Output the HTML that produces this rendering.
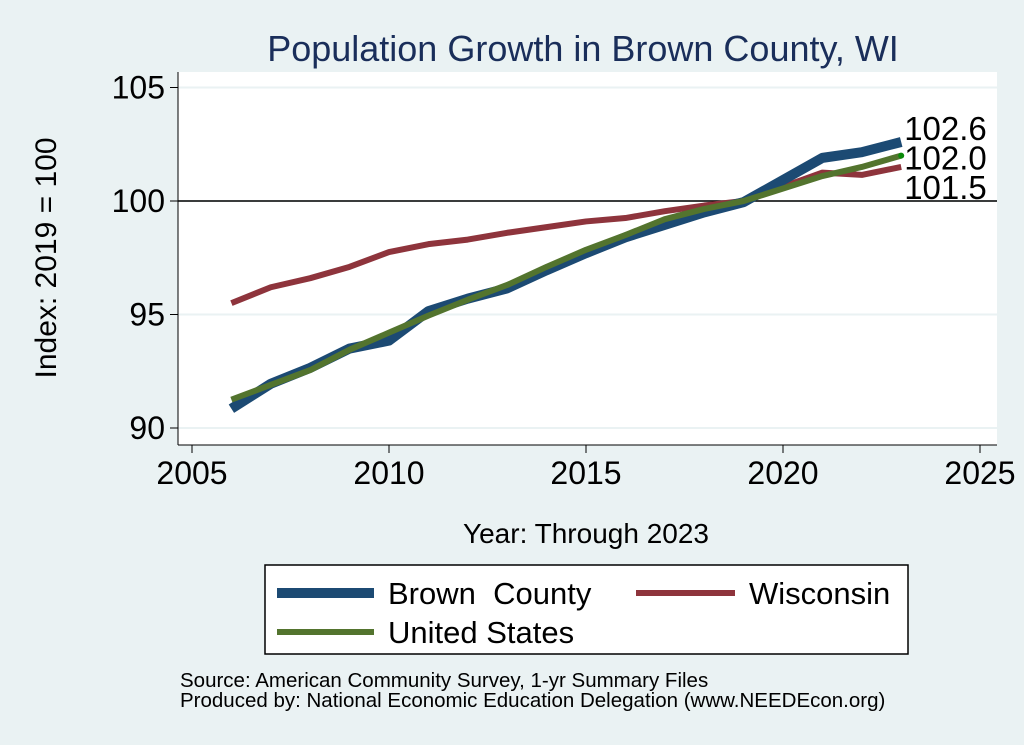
<!DOCTYPE html>
<html><head><meta charset="utf-8"><style>
body{margin:0;background:#eaf2f3;}
svg{display:block;font-family:"Liberation Sans",Arial,sans-serif;}
</style></head><body>
<svg width="1024" height="745" viewBox="0 0 1024 745">
<rect x="0" y="0" width="1024" height="745" fill="#eaf2f3"/>
<text x="583" y="61" font-size="36" fill="#1a2e5a" text-anchor="middle">Population Growth in Brown County, WI</text>
<rect x="178" y="72" width="819" height="373" fill="#fff"/>
<g id="grid"></g>
<g id="axes"></g>
<g id="series"></g>
<g id="labels"></g>
<text x="56" y="258" font-size="30" fill="#000" text-anchor="middle" transform="rotate(-90 56 258)">Index: 2019 = 100</text>
<text x="586" y="543" font-size="28" fill="#000" text-anchor="middle">Year: Through 2023</text>
<g>
<rect x="265" y="565" width="643" height="89" fill="#fff" stroke="#000" stroke-width="1.5"/>
<line x1="277" y1="593" x2="374" y2="593" stroke="#1c4a73" stroke-width="10"/>
<text x="388" y="604" font-size="31" style="white-space:pre" xml:space="preserve">Brown  County</text>
<line x1="636" y1="593" x2="735" y2="593" stroke="#8e343c" stroke-width="6"/>
<text x="749" y="604" font-size="31">Wisconsin</text>
<line x1="277" y1="632" x2="374" y2="632" stroke="#53742e" stroke-width="6"/>
<text x="388" y="643" font-size="31">United States</text>
</g>
<text x="180" y="687" font-size="20.5">Source: American Community Survey, 1-yr Summary Files</text>
<text x="180" y="707" font-size="20.5">Produced by: National Economic Education Delegation (www.NEEDEcon.org)</text>
</svg>
<script>
const years=[2006,2007,2008,2009,2010,2011,2012,2013,2014,2015,2016,2017,2018,2019,2021,2022,2023];
const brown=[90.85,91.95,92.65,93.5,93.85,95.15,95.7,96.15,96.95,97.7,98.4,98.95,99.5,99.95,101.9,102.15,102.6];
const wisconsin=[95.5,96.2,96.6,97.1,97.75,98.1,98.3,98.6,98.85,99.1,99.25,99.55,99.8,100,101.25,101.15,101.5];
const us=[91.25,91.9,92.55,93.45,94.2,94.95,95.65,96.3,97.1,97.85,98.5,99.2,99.65,100,101.1,101.5,102.0];
const xTicks=[2005,2010,2015,2020,2025];
const yTicks=[90,95,100,105];
const endLabels=["102.6","102.0","101.5"];
const NS="http://www.w3.org/2000/svg";
const X=v=>192+(v-2005)*(980-192)/20;
const Y=v=>201-(v-100)*22.7;
function mk(tag,attrs,parent){const e=document.createElementNS(NS,tag);for(const k in attrs)e.setAttribute(k,attrs[k]);parent.appendChild(e);return e;}
const grid=document.getElementById('grid'),axes=document.getElementById('axes'),ser=document.getElementById('series'),lab=document.getElementById('labels');
yTicks.forEach(t=>{
 const g=mk('line',{x1:178,x2:997,y1:Y(t),y2:Y(t),stroke:'#eaf2f3','stroke-width':2},grid);
 
 
 const tk=mk('line',{x1:170,x2:178,y1:Y(t),y2:Y(t),stroke:'#000','stroke-width':1},axes);
 
 
 const tx=mk('text',{x:165,y:Y(t)+11,'font-size':32,'text-anchor':'end'},axes);
 tx.textContent=t;
 
 
});
xTicks.forEach(t=>{
 const tk=mk('line',{x1:X(t),x2:X(t),y1:445,y2:453,stroke:'#000','stroke-width':1},axes);
 
 
 const tx=mk('text',{x:X(t),y:484,'font-size':32,'text-anchor':'middle'},axes);
 tx.textContent=t;
 
 
});
const ya=mk('line',{x1:178,x2:178,y1:72,y2:445,stroke:'#000','stroke-width':1},axes);


const xa=mk('line',{x1:178,x2:997,y1:445,y2:445,stroke:'#000','stroke-width':1},axes);


const ref=mk('line',{x1:178,x2:997,y1:Y(100),y2:Y(100),stroke:'#000','stroke-width':1.5},axes);


function line(vals,color,w,name){
 const p=mk('polyline',{points:vals.map((v,i)=>X(years[i])+','+Y(v)).join(' '),fill:'none',stroke:color,'stroke-width':w,'stroke-linejoin':'round'},ser);
 
 
}
line(wisconsin,'#8e343c',6,'wisconsin-line');
line(brown,'#1c4a73',10,'brown-county-line');
line(us,'#53742e',6,'united-states-line');
const lx=X(years[years.length-1]);
const dot=mk('circle',{cx:lx,cy:Y(us[us.length-1]),r:3,fill:'#0a8a0a'},ser);


[[brown,endLabels[0],-2],[us,endLabels[1],14],[wisconsin,endLabels[2],32]].forEach(([s,l,off])=>{
 const t=mk('text',{x:lx+3,y:Y(s[s.length-1])+off,'font-size':33},lab);
 t.textContent=l;
 
 
});
</script>
</body></html>
